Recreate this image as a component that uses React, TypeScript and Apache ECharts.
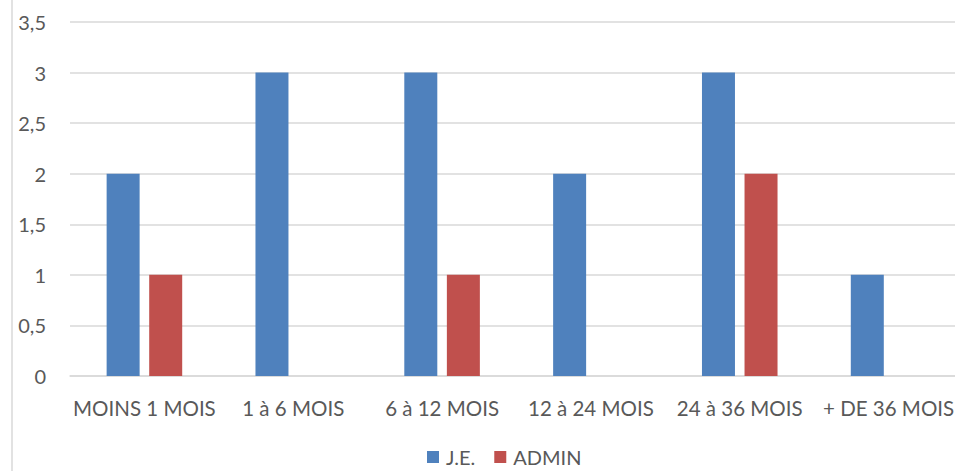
import React, { useEffect, useRef } from "react";
import * as echarts from "echarts";

const categories = ["MOINS 1 MOIS", "1 à 6 MOIS", "6 à 12 MOIS", "12 à 24 MOIS", "24 à 36 MOIS", "+ DE 36 MOIS"];
const jeValues = [2, 3, 3, 2, 3, 1];
const adminValues = [1, 0, 1, 0, 2, 0];
const seriesNames = ["J.E.", "ADMIN"];

const FONT = "Lato, 'Open Sans', sans-serif";

export default function App() {
  const ref = useRef<HTMLDivElement>(null);
  useEffect(() => {
    if (!ref.current) return;
    const chart = echarts.init(ref.current, undefined, { renderer: "svg" });
    chart.setOption({
      animation: false,
      textStyle: { fontFamily: FONT },
      graphic: [
        {
          type: "line",
          shape: { x1: 12, y1: 0, x2: 12, y2: 471 },
          style: { stroke: "#D9D9D9", lineWidth: 1.5 },
        },
      ],
      legend: {
        bottom: -1,
        left: 422,
        itemWidth: 12,
        itemHeight: 12,
        itemGap: 19,
        icon: "rect",
        textStyle: { color: "#595959", fontSize: 20, fontFamily: FONT, padding: [0, 0, 0, 2] },
        data: seriesNames,
      },
      grid: { left: 70, right: 2, top: 22, bottom: 95, containLabel: false },
      xAxis: {
        type: "category",
        data: categories,
        axisLine: { show: true, lineStyle: { color: "#D9D9D9", width: 1.5 } },
        axisTick: { show: false },
        axisLabel: { color: "#595959", fontSize: 20.5, fontFamily: FONT, margin: 21, interval: 0 },
      },
      yAxis: {
        type: "value",
        min: 0,
        max: 3.5,
        interval: 0.5,
        axisLine: { show: false },
        axisTick: { show: false },
        splitLine: { lineStyle: { color: "#D9D9D9", width: 1.5 } },
        axisLabel: {
          color: "#595959",
          fontSize: 20,
          fontFamily: FONT,
          margin: 24,
          formatter: (v: number) => String(v).replace(".", ","),
        },
      },
      series: [
        {
          name: seriesNames[0],
          type: "bar",
          data: jeValues,
          barWidth: 33,
          barGap: "29%",
          itemStyle: { color: "#4F81BD" },
        },
        {
          name: seriesNames[1],
          type: "bar",
          data: adminValues,
          barWidth: 33,
          itemStyle: { color: "#C0504D" },
        },
      ],
    });
    return () => chart.dispose();
  }, []);
  return (
    <div
      style={{ position: "fixed", left: 0, top: 0, width: 955, height: 471, overflow: "hidden", background: "#fff" }}
    >
      <div ref={ref} style={{ width: 965, height: 471 }} />
    </div>
  );
}
